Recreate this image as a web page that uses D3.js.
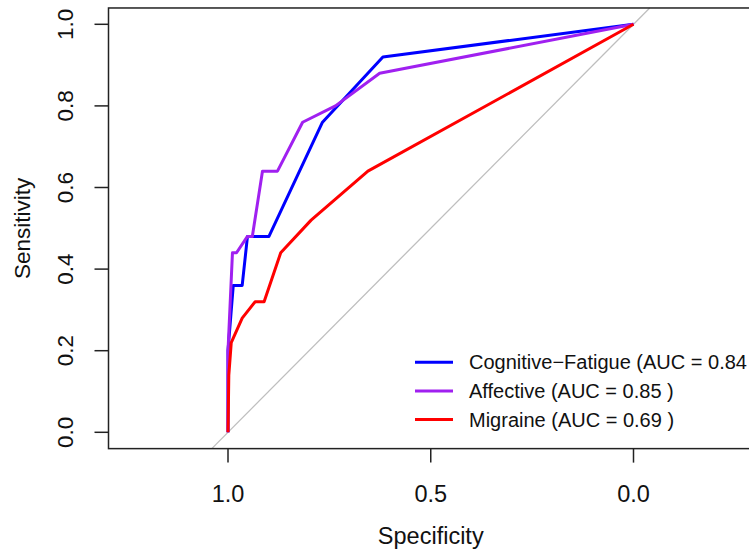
<!DOCTYPE html>
<html>
<head>
<meta charset="utf-8">
<script src="https://cdn.jsdelivr.net/npm/d3@7"></script>
<style>
  body { margin: 0; background: #fff; }
  svg { display: block; font-family: "Liberation Sans", Arial, Helvetica, sans-serif; }
</style>
</head>
<body>
<script>
// ROC curves (specificity, sensitivity)
var cog_spec = [1, 1, 0.987, 0.965, 0.952, 0.899, 0.767, 0.618, 0];
var cog_sens = [0, 0.20, 0.36, 0.36, 0.48, 0.48, 0.76, 0.92, 1];

var aff_spec = [1, 1, 0.989, 0.979, 0.952, 0.940, 0.915, 0.878, 0.816, 0.735, 0.626, 0];
var aff_sens = [0, 0.20, 0.44, 0.44, 0.48, 0.48, 0.64, 0.64, 0.76, 0.80, 0.88, 1];

var mig_spec = [1, 0.998, 0.992, 0.965, 0.933, 0.911, 0.870, 0.795, 0.655, 0];
var mig_sens = [0, 0.14, 0.22, 0.28, 0.32, 0.32, 0.44, 0.52, 0.64, 1];

var series_names = ['Cognitive\u2212Fatigue (AUC = 0.84 )', 'Affective (AUC = 0.85 )', 'Migraine (AUC = 0.69 )'];
var series_colors = ['#0000ff', '#a020f0', '#ff0000'];

var x_ticks = [1.0, 0.5, 0.0];
var y_ticks = [0, 0.2, 0.4, 0.6, 0.8, 1.0];

var width = 749, height = 552;

var svg = d3.select('body').append('svg')
  .attr('width', width)
  .attr('height', height);

// specificity runs backwards, like pROC
var x_scale = d3.scaleLinear().domain([1, 0]).range([228, 633.5]);
var y_scale = d3.scaleLinear().domain([0, 1]).range([432.3, 24.3]);

var box_left = 108.5;
var box_right = x_scale(-0.3);
var box_top = y_scale(1.04);
var box_bottom = y_scale(-0.04);

// identity line, clipped to the box
svg.append('line')
  .attr('x1', x_scale(1.04)).attr('y1', y_scale(-0.04))
  .attr('x2', x_scale(-0.04)).attr('y2', y_scale(1.04))
  .attr('stroke', '#bebebe')
  .attr('stroke-width', 1.3);

var all_series = [
  { spec: cog_spec, sens: cog_sens },
  { spec: aff_spec, sens: aff_sens },
  { spec: mig_spec, sens: mig_sens }
];

var line = d3.line()
  .x(function(d){ return x_scale(d[0]); })
  .y(function(d){ return y_scale(d[1]); });

svg.append('g')
  .attr('class', 'curves')
  .selectAll('path')
  .data(all_series)
  .enter()
  .append('path')
  .attr('d', function(d) {
    return line(d3.zip(d.spec, d.sens));
  })
  .attr('fill', 'none')
  .attr('stroke', function(d, i){ return series_colors[i]; })
  .attr('stroke-width', 3)
  .attr('stroke-linejoin', 'round');

// plot box
svg.append('rect')
  .attr('x', box_left)
  .attr('y', box_top)
  .attr('width', box_right - box_left)
  .attr('height', box_bottom - box_top)
  .attr('fill', 'none')
  .attr('stroke', '#222')
  .attr('stroke-width', 1.5);

// x axis
var x_axis = svg.append('g')
  .attr('transform', 'translate(0,' + box_bottom + ')');

x_axis.selectAll('line')
  .data(x_ticks)
  .enter()
  .append('line')
  .attr('x1', function(d){ return x_scale(d); })
  .attr('x2', function(d){ return x_scale(d); })
  .attr('y1', 0)
  .attr('y2', 14)
  .attr('stroke', '#222')
  .attr('stroke-width', 1.5);

x_axis.selectAll('text')
  .data(x_ticks)
  .enter()
  .append('text')
  .attr('x', function(d){ return x_scale(d); })
  .attr('y', 53)
  .attr('text-anchor', 'middle')
  .style('font-size', '23.5px')
  .attr('fill', '#111')
  .text(function(d){ return d3.format('.1f')(d); });

// y axis
var y_axis = svg.append('g')
  .attr('transform', 'translate(' + box_left + ',0)');

y_axis.selectAll('line')
  .data(y_ticks)
  .enter()
  .append('line')
  .attr('x1', -14)
  .attr('x2', 0)
  .attr('y1', function(d){ return y_scale(d); })
  .attr('y2', function(d){ return y_scale(d); })
  .attr('stroke', '#222')
  .attr('stroke-width', 1.5);

y_axis.selectAll('text')
  .data(y_ticks)
  .enter()
  .append('text')
  .attr('transform', function(d) {
    return 'translate(-36,' + y_scale(d) + ') rotate(-90)';
  })
  .attr('text-anchor', 'middle')
  .style('font-size', '22.5px')
  .attr('fill', '#111')
  .text(function(d){ return d3.format('.1f')(d); });

// axis titles
svg.append('text')
  .attr('x', x_scale(0.5))
  .attr('y', 544)
  .attr('text-anchor', 'middle')
  .style('font-size', '23.5px')
  .attr('fill', '#111')
  .text('Specificity');

svg.append('text')
  .attr('transform', 'translate(30,' + y_scale(0.5) + ') rotate(-90)')
  .attr('text-anchor', 'middle')
  .style('font-size', '22.5px')
  .attr('fill', '#111')
  .text('Sensitivity');

// legend, no box
var legend = svg.append('g')
  .attr('class', 'legend')
  .selectAll('g')
  .data(series_names)
  .enter()
  .append('g')
  .attr('transform', function(d, i) {
    return 'translate(415,' + (362.3 + i * 28.6) + ')';
  });

legend.append('line')
  .attr('x1', 0)
  .attr('x2', 38)
  .attr('stroke', function(d, i){ return series_colors[i]; })
  .attr('stroke-width', 3);

legend.append('text')
  .attr('x', 54)
  .attr('y', 7)
  .style('font-size', '20px')
  .attr('fill', '#111')
  .text(function(d){ return d; });
</script>
</body>
</html>
